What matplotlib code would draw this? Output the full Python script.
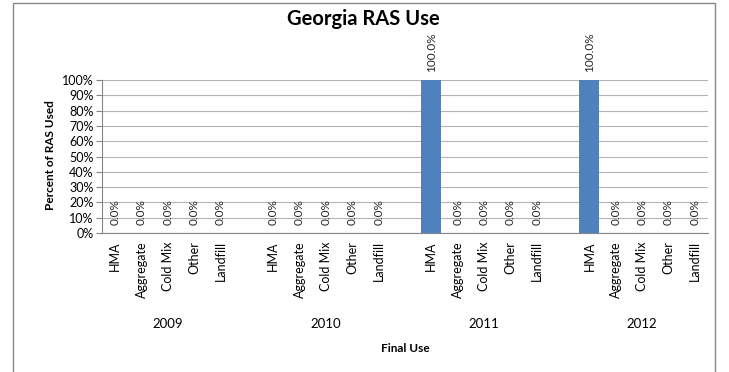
import matplotlib
matplotlib.use("Agg")
import matplotlib.pyplot as plt
import matplotlib.transforms as mtransforms
from matplotlib.patches import Rectangle

plt.rcParams['font.family'] = ['Lato', 'DejaVu Sans']

# data
years = ['2009', '2010', '2011', '2012']
uses = ['HMA', 'Aggregate', 'Cold Mix', 'Other', 'Landfill']
pct_2009 = [0.0, 0.0, 0.0, 0.0, 0.0]
pct_2010 = [0.0, 0.0, 0.0, 0.0, 0.0]
pct_2011 = [100.0, 0.0, 0.0, 0.0, 0.0]
pct_2012 = [100.0, 0.0, 0.0, 0.0, 0.0]
values = [pct_2009, pct_2010, pct_2011, pct_2012]

fig = plt.figure(figsize=(7.29, 3.72), dpi=100)
ax = fig.add_axes([102 / 729, 1 - 233 / 372, 606 / 729, 153 / 372])

# outer chart border
fig.patches.append(Rectangle((13 / 729, -0.1), 702 / 729, 1.1 - 3 / 372,
                             transform=fig.transFigure, fill=False,
                             edgecolor='#868686', linewidth=1.0))

bar_color = '#4F81BD'
xs, labels, centers = [], [], []
for gi, vals in enumerate(values):
    start = gi * (len(uses) + 1)
    pos = [start + i for i in range(len(uses))]
    centers.append(sum(pos) / len(pos))
    ax.bar(pos, vals, width=0.76, color=bar_color, zorder=3)
    for p, v in zip(pos, vals):
        ax.annotate(f'{v:.1f}%', (p, v), xytext=(0, 6), textcoords='offset points',
                    rotation=90, ha='center', va='bottom', fontsize=8.5, color='#262626')
    xs += pos
    labels += uses

ax.set_xlim(-0.5, len(years) * (len(uses) + 1) - 1.5)
ax.set_ylim(0, 100)
ax.set_yticks(range(0, 101, 10))
ax.set_yticklabels([f'{t}%' for t in range(0, 101, 10)], fontsize=9)
ax.set_xticks(xs)
ax.set_xticklabels(labels, rotation=90, fontsize=9, va='top')
ax.tick_params(axis='x', length=0, pad=6)
ax.tick_params(axis='y', length=4, color='#868686', pad=2)
ax.yaxis.grid(True, color='#B4B4B4', linewidth=0.8, zorder=0)
ax.set_axisbelow(True)
for s in ['top', 'right']:
    ax.spines[s].set_visible(False)
ax.spines['left'].set_color('#868686')
ax.spines['bottom'].set_color('#868686')

trans = mtransforms.blended_transform_factory(ax.transData, fig.transFigure)
for c, y in zip(centers, years):
    ax.text(c, 1 - 324 / 372, y, transform=trans, ha='center', va='center', fontsize=9.5)

fig.text(405 / 729, 1 - 348 / 372, 'Final Use', ha='center', va='center',
         fontsize=8.5, fontweight='bold')
fig.text(50 / 729, 1 - 155 / 372, 'Percent of RAS Used', rotation=90, ha='center',
         va='center', fontsize=8.5, fontweight='bold')
fig.text(363 / 729, 1 - 19 / 372, 'Georgia RAS Use', ha='center', va='center',
         fontsize=14.5, fontweight='bold')

fig.savefig('out.png', dpi=100)
